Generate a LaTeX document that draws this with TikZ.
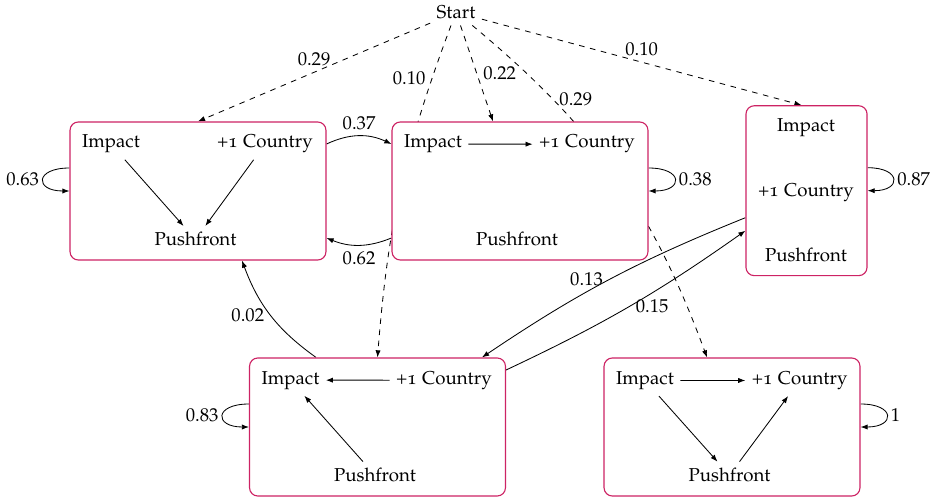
\documentclass[tikz,border=0pt]{standalone}
\usepackage[T1]{fontenc}
\usepackage[osf]{mathpazo}
\usetikzlibrary{arrows.meta,calc}
\pgfdeclarelayer{background}
\pgfsetlayers{background,main}
\definecolor{boxcol}{RGB}{205,35,100}
\begin{document}
\begin{tikzpicture}[x=0.536pt,y=-0.536pt,
  box/.style={draw=boxcol, line width=0.6pt, rounded corners=4.5pt, fill=white,
    minimum width=137.2pt, minimum height=74pt, inner sep=0pt},
  tallbox/.style={box, minimum width=64.9pt, minimum height=91.1pt},
  txt/.style={anchor=base, inner sep=3.3pt},
  arr/.style={-{Latex[length=3.8pt,width=2.8pt]}, line width=0.45pt},
  darr/.style={arr, dashed},
  lab/.style={inner sep=3.3pt},
  looplab/.style={inner sep=2pt},
]
\useasboundingbox (0,0) rectangle (930,499);
% boxes
\node[box] (A) at (198,191) {};
\node[box] (B) at (520,191) {};
\node[tallbox] (C) at (806.5,190.7) {};
\node[box] (D) at (377.5,427) {};
\node[box] (E) at (732,427) {};
\node[txt] (S) at (456,18.5) {Start};
% texts
\node[txt] (Ai) at (111,148) {Impact};
\node[txt] (Ac) at (265,148) {+1 Country};
\node[txt] (Ap) at (195.5,246) {Pushfront};
\node[txt] (Bi) at (433,148) {Impact};
\node[txt] (Bc) at (587,148) {+1 Country};
\node[txt] (Bp) at (517,246) {Pushfront};
\node[txt] (Ci) at (806,131.7) {Impact};
\node[txt] (Cc) at (806,196.7) {+1 Country};
\node[txt] (Cp) at (806,261.7) {Pushfront};
\node[txt] (Di) at (290.5,384) {Impact};
\node[txt] (Dc) at (444,384) {+1 Country};
\node[txt] (Dp) at (375,481.7) {Pushfront};
\node[txt] (Ei) at (645,384.3) {Impact};
\node[txt] (Ec) at (799.7,384.3) {+1 Country};
\node[txt] (Ep) at (729.5,481.7) {Pushfront};
% inner arrows
\draw[arr] (Ai) -- (Ap);
\draw[arr] (Ac) -- (Ap);
\draw[arr] (Bi) -- (Bc);
\draw[arr] (Dc) -- (Di);
\draw[arr] (Dp) -- (Di);
\draw[arr] (Ei) -- (Ec);
\draw[arr] (Ei) -- (Ep);
\draw[arr] (Ep) -- (Ec);
% transitions
\begin{pgfonlayer}{background}
\draw[darr] (S) -- node[lab,pos=0.5,above] (l1) {$0.29$} (A.north);
\draw[darr] (S) -- node[lab,pos=0.5,right] (l2) {$0.22$} ($(B.north)+(-27,0)$);
\draw[darr] (S) -- node[lab,pos=0.5,above] (l3) {$0.10$} ($(C.north)+(-5,0)$);
\draw[darr] (S) to[bend right=8] node[lab,pos=0.15,left] (l4) {$0.10$} (D.north);
\draw[darr] (S) to[bend left=15] node[lab,pos=0.25,right] (l5) {$0.29$} ($(E.north)+(-25,0)$);
\draw[arr] ($(A.east)+(0,-47)$) to[bend left=25] node[lab,above] (l6) {$0.37$} ($(B.west)+(0,-47)$);
\draw[arr] ($(B.west)+(0,47)$) to[bend left=22] node[lab,below] (l7) {$0.62$} ($(A.east)+(0,47)$);
\draw[arr] ($(D.north)+(-61.5,0)$) to[bend left=17] node[lab,left] (l8) {$0.02$} ($(A.south)+(44,0)$);
\draw[arr] ($(C.west)+(0,27)$) to[bend right=6] node[lab,left] (l9) {$0.13$} ($(D.north)+(104.5,0)$);
\draw[arr] ($(D.east)+(0,-57)$) to[bend right=5] node[lab,right] (l10) {$0.15$} ($(C.west)+(0,40)$);
% self loops
\draw[arr] ($(A.west)+(0,-23)$) .. controls +(-35,0) and +(-35,0) .. node[looplab,left] (l11) {$0.63$} (A.west);
\draw[arr] ($(B.east)+(0,-23)$) .. controls +(35,0) and +(35,0) .. node[looplab,right] (l12) {$0.38$} (B.east);
\draw[arr] ($(C.east)+(0,-23)$) .. controls +(34,0) and +(34,0) .. node[looplab,right] (l13) {$0.87$} (C.east);
\draw[arr] ($(D.west)+(0,-23)$) .. controls +(-35,0) and +(-35,0) .. node[looplab,left] (l14) {$0.83$} (D.west);
\draw[arr] ($(E.east)+(0,-23)$) .. controls +(35,0) and +(35,0) .. node[looplab,right] (l15) {$1$} (E.east);
\end{pgfonlayer}
\end{tikzpicture}
\end{document}
